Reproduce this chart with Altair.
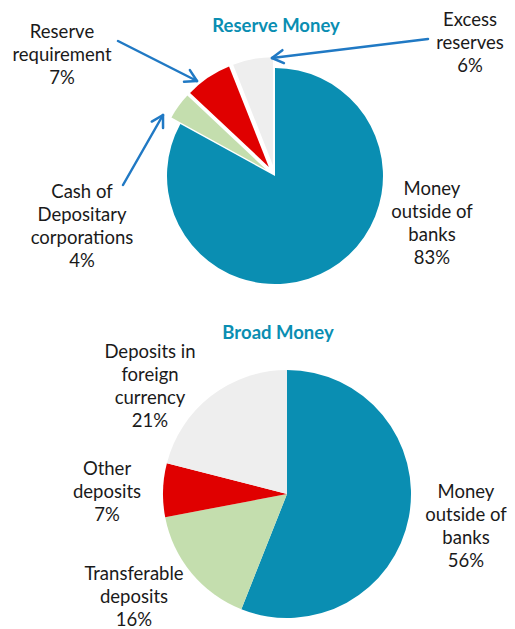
import math
import altair as alt
import pandas as pd

# ---------------- data ----------------
top_title = "Reserve Money"
top_categories = ["Money\noutside of\nbanks", "Cash of\nDepositary\ncorporations",
                  "Reserve\nrequirement", "Excess\nreserves"]
top_values = [83, 4, 7, 6]

bottom_title = "Broad Money"
bottom_categories = ["Money\noutside of\nbanks", "Transferable\ndeposits",
                     "Other\ndeposits", "Deposits in\nforeign\ncurrency"]
bottom_values = [56, 16, 7, 21]

# ---------------- styles / layout ----------------
slice_colors = ["#0A8EB2", "#C4DEAE", "#E00000", "#EEEEEE"]
title_color = "#0A8EB2"
arrow_color = "#2079C4"
FONT = "Lato"

W, H = 499, 621
top_center = (267, 168)
top_radius = 108
top_explode = [0, 11, 11, 11]
bottom_center = (279, 486)
bottom_radius = 124
bottom_explode = [0, 0, 0, 0]

top_title_pos = (268, 18)
bottom_title_pos = (270, 325)
# position of the first line of each label
top_label_pos = [(424, 181), (74, 184), (54, 24), (462, 12)]
bottom_label_pos = [(458, 484), (126, 566), (99, 461), (142, 344)]

# arrows: (start, tip)
arrows = [((110, 33), (189, 73)), ((420, 31), (264, 50)), ((115, 177), (155, 107))]
head_len = 13
head_ang = math.radians(30)


def pie(cats, vals, center, radius, explode):
    df = pd.DataFrame({"cat": cats, "value": vals, "idx": list(range(len(vals))),
                       "fill": slice_colors, "explode": explode})
    cx, cy = center
    return (
        alt.Chart(df)
        .transform_joinaggregate(total="sum(value)")
        .transform_window(cum="sum(value)", sort=[alt.SortField("idx")], frame=[None, 0])
        .transform_calculate(
            a0="(datum.cum - datum.value) / datum.total * 2 * PI",
            a1="datum.cum / datum.total * 2 * PI",
        )
        .transform_calculate(
            mid="(datum.a0 + datum.a1) / 2",
        )
        .transform_calculate(
            px=f"{cx} + datum.explode * sin(datum.mid)",
            py=f"{cy} - datum.explode * cos(datum.mid)",
        )
        .mark_arc(radius=radius)
        .encode(
            theta=alt.Theta("a0:Q", scale=None),
            theta2="a1:Q",
            color=alt.Color("fill:N", scale=None),
            x=alt.X("px:Q", scale=None, axis=None),
            y=alt.Y("py:Q", scale=None, axis=None),
        )
    )


def labels(cats, vals, pos):
    df = pd.DataFrame({
        "txt": [f"{c}\n{v}%" for c, v in zip(cats, vals)],
        "lx": [p[0] for p in pos],
        "ly": [p[1] for p in pos],
    })
    return alt.Chart(df).mark_text(
        font=FONT, fontSize=18.5, lineBreak="\n", lineHeight=23,
        align="center", baseline="middle", color="#1a1a1a"
    ).encode(
        x=alt.X("lx:Q", scale=None, axis=None),
        y=alt.Y("ly:Q", scale=None, axis=None),
        text="txt:N",
    )


def title(t, pos):
    df = pd.DataFrame({"t": [t], "lx": [pos[0]], "ly": [pos[1]]})
    return alt.Chart(df).mark_text(
        font=FONT, fontSize=18.5, fontWeight="bold", color=title_color,
        align="center", baseline="middle"
    ).encode(
        x=alt.X("lx:Q", scale=None, axis=None),
        y=alt.Y("ly:Q", scale=None, axis=None),
        text="t:N",
    )


segs = []
for (s, t) in arrows:
    segs.append({"x": s[0], "y": s[1], "x2": t[0], "y2": t[1]})
    dx, dy = t[0] - s[0], t[1] - s[1]
    n = math.hypot(dx, dy)
    ux, uy = dx / n, dy / n
    for sgn in (1, -1):
        a = sgn * head_ang
        rx = ux * math.cos(a) - uy * math.sin(a)
        ry = ux * math.sin(a) + uy * math.cos(a)
        segs.append({"x": t[0], "y": t[1], "x2": t[0] - head_len * rx, "y2": t[1] - head_len * ry})
arrow_df = pd.DataFrame(segs)

arrow_layer = alt.Chart(arrow_df).mark_rule(
    color=arrow_color, strokeWidth=2.5, strokeCap="round"
).encode(
    x=alt.X("x:Q", scale=None, axis=None),
    y=alt.Y("y:Q", scale=None, axis=None),
    x2="x2:Q",
    y2="y2:Q",
)

chart = alt.layer(
    pie(top_categories, top_values, top_center, top_radius, top_explode),
    pie(bottom_categories, bottom_values, bottom_center, bottom_radius, bottom_explode),
    labels(top_categories, top_values, top_label_pos),
    labels(bottom_categories, bottom_values, bottom_label_pos),
    title(top_title, top_title_pos),
    title(bottom_title, bottom_title_pos),
    arrow_layer,
).properties(
    width=W, height=H, padding=0, autosize="none"
).configure_view(stroke=None)

chart.save("out.html", embed_options={"renderer": "svg", "actions": False})
